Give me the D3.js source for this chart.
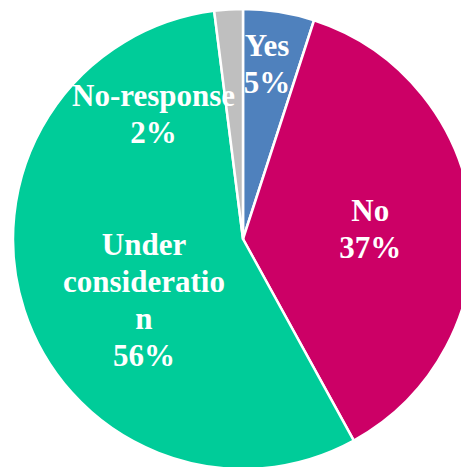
<!DOCTYPE html>
<html>
<head>
<meta charset="utf-8">
<script src="https://cdn.jsdelivr.net/npm/d3@7"></script>
<style>
  html, body { margin: 0; padding: 0; background: #fff; overflow: hidden; }
  svg { display: block; }
  .lbl { font-family: "Liberation Serif", "DejaVu Serif", serif; font-weight: bold; font-size: 31px; }
</style>
</head>
<body>
<script>
// chart data
var categories = ["Yes", "No", "Under consideration", "No-response"];
var values = [5, 37, 56, 2];
var percentLabels = ["5%", "37%", "56%", "2%"];
// how each label wraps in the original
var labelLines = [["Yes"], ["No"], ["Under", "consideratio", "n"], ["No-response"]];
var colors = ["#4F81BD", "#CC0066", "#00CC99", "#BFBFBF"];

var width = 461, height = 467;
var cx = 243, cy = 239, radius = 230;

var svg = d3.select("body").append("svg")
    .attr("width", width)
    .attr("height", height);

var g = svg.append("g").attr("transform", "translate(" + cx + "," + cy + ")");

var pie = d3.pie().sort(null).value(function(d) { return d; });
var arcs = pie(values);

var arc = d3.arc().innerRadius(0).outerRadius(radius);

g.selectAll("path.slice")
    .data(arcs)
    .enter()
    .append("path")
    .attr("class", "slice")
    .attr("d", arc)
    .attr("fill", function(d, i) { return colors[i]; })
    .attr("stroke", "#fff")
    .attr("stroke-width", 2.5)
    .attr("stroke-linejoin", "round");

// label placement (best-fit, like the original): radius fraction and angle in degrees
var labelPlace = [
  { r: 0.77, a: 7.8 },
  { r: 0.555, a: 85.5 },
  { r: 0.505, a: 238.5 },
  { r: 0.67, a: 324.5 }
];
var lineH = 37;

categories.forEach(function(c, i) {
  var p = labelPlace[i];
  var ang = p.a * Math.PI / 180;
  var x = Math.sin(ang) * p.r * radius;
  var y = -Math.cos(ang) * p.r * radius;
  var lines = labelLines[i].concat([percentLabels[i]]);
  var top = y - (lines.length - 1) * lineH / 2;
  var t = g.append("text")
      .attr("class", "lbl")
      .attr("text-anchor", "middle")
      .attr("fill", "#fff");
  lines.forEach(function(s, j) {
    t.append("tspan")
      .attr("x", x)
      .attr("y", top + j * lineH)
      .attr("dy", "0.35em")
      .text(s);
  });
});
</script>
</body>
</html>
